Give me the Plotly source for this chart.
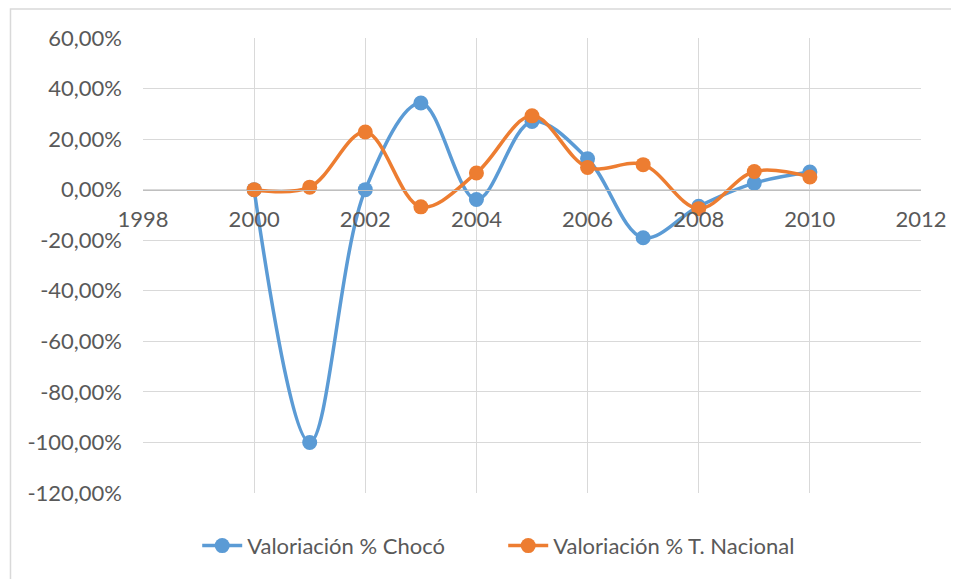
import plotly.graph_objects as go

years = [2000, 2001, 2002, 2003, 2004, 2005, 2006, 2007, 2008, 2009, 2010]
choco = [0.0, -100.0, 0.0, 34.3, -3.9, 27.0, 12.2, -19.0, -6.6, 2.6, 7.0]
nacional = [0.0, 1.0, 22.8, -6.8, 6.6, 29.2, 8.8, 9.9, -7.5, 7.2, 5.0]

x_ticks = [1998, 2000, 2002, 2004, 2006, 2008, 2010, 2012]
x_ticktext = ["1998", "2000", "2002", "2004", "2006", "2008", "2010", "2012"]
y_ticks = [60, 40, 20, 0, -20, -40, -60, -80, -100, -120]
y_ticktext = ["60,00%", "40,00%", "20,00%", "0,00%", "-20,00%", "-40,00%",
              "-60,00%", "-80,00%", "-100,00%", "-120,00%"]

FONT = "Lato, Open Sans, sans-serif"
TXT = "#595959"
FS = 22

fig = go.Figure()
fig.add_trace(go.Scatter(
    x=years, y=choco, name="Valoriación % Chocó", mode="lines+markers",
    line=dict(color="#5B9BD5", width=3.5, shape="spline", smoothing=1.0),
    marker=dict(size=15, color="#5B9BD5"),
))
fig.add_trace(go.Scatter(
    x=years, y=nacional, name="Valoriación % T. Nacional", mode="lines+markers",
    line=dict(color="#ED7D31", width=3.5, shape="spline", smoothing=1.0),
    marker=dict(size=15, color="#ED7D31"),
))

# page body has an 8px margin, so the figure starts at (8, 8)
fig.update_layout(
    width=951, height=571,
    margin=dict(l=135, r=33, t=30, b=77),
    paper_bgcolor="white", plot_bgcolor="white",
    font=dict(family=FONT, size=FS, color=TXT),
    showlegend=True,
    legend=dict(orientation="h", x=0.463, xanchor="center", y=-0.116, yanchor="middle",
                font=dict(family=FONT, size=FS, color=TXT), itemwidth=40,
                entrywidth=251, entrywidthmode="pixels",
                bgcolor="rgba(0,0,0,0)"),
    xaxis=dict(range=[1998, 2012], tickvals=x_ticks, ticktext=x_ticktext,
               showgrid=True, gridcolor="#d9d9d9", gridwidth=1,
               zeroline=False, showline=True, linecolor="#bfbfbf", linewidth=1,
               anchor="free", position=2/3, ticks="", ticklen=0,
               ticklabelstandoff=10,
               tickfont=dict(family=FONT, size=FS, color=TXT)),
    yaxis=dict(range=[-120, 60], tickvals=y_ticks, ticktext=y_ticktext,
               showgrid=True, gridcolor="#d9d9d9", gridwidth=1,
               zeroline=False, showline=False, ticks="",
               ticklabelstandoff=20,
               tickfont=dict(family=FONT, size=FS, color=TXT)),
    shapes=[dict(type="rect", xref="paper", yref="paper",
                 x0=(11 - 143) / 775, x1=(975 - 143) / 775,
                 y0=(494 - 600) / 456, y1=(494 - 9) / 456,
                 line=dict(color="#d9d9d9", width=1.5), layer="below")],
)

fig.write_html("out.html")
